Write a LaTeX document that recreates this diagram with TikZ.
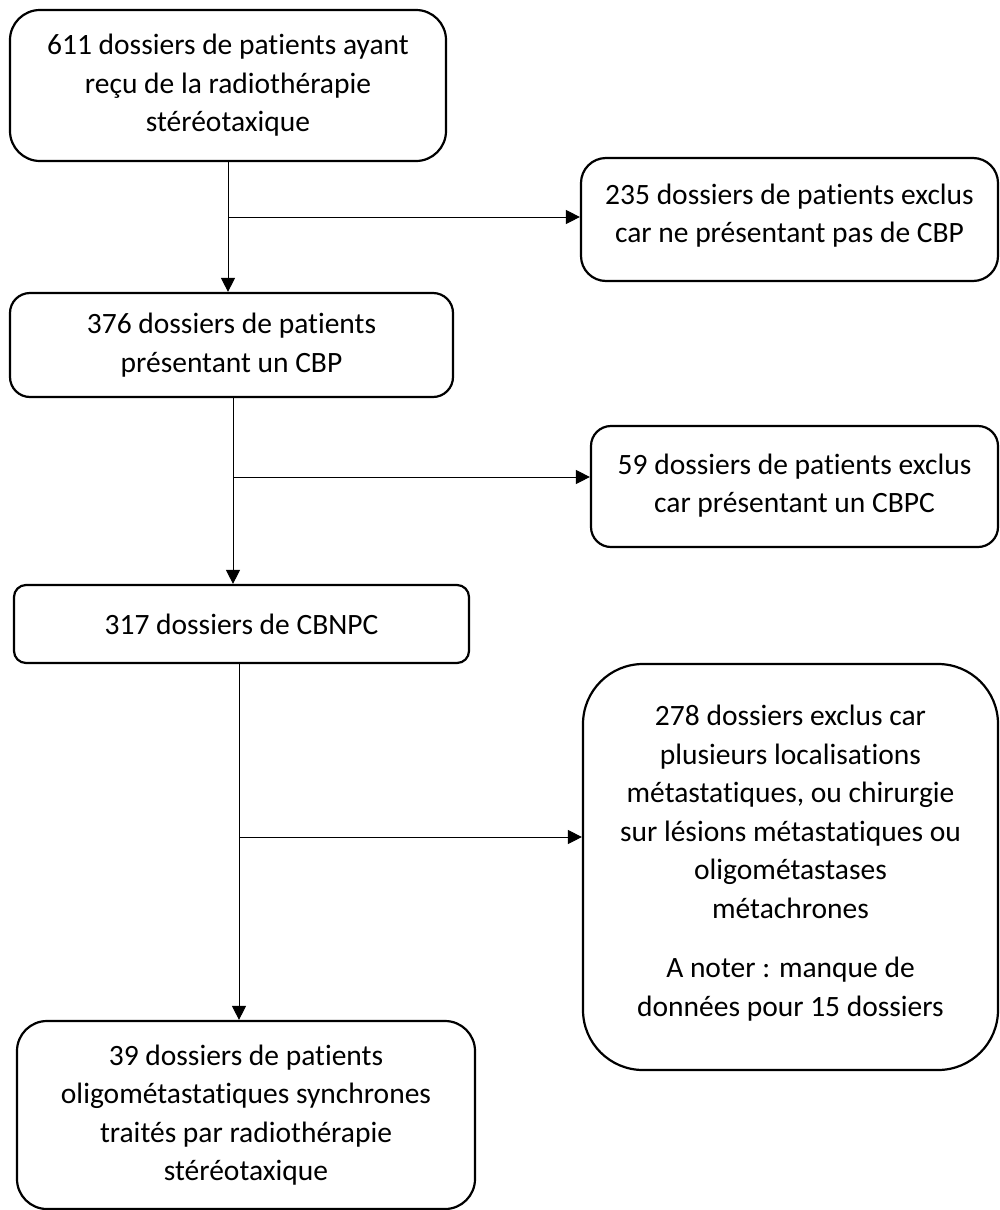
\documentclass[tikz,border=0pt]{standalone}
\usepackage{fontspec}
\setmainfont[RawFeature={-liga;-clig;-dlig;-calt}]{Carlito}
\usetikzlibrary{arrows.meta,calc}
\tikzset{
  box/.style={draw=black, line width=2.2pt, fill=white, align=center, inner sep=0pt,
    font=\fontsize{29.5}{38.5}\selectfont},
  link/.style={draw=black, line width=1pt},
  arr/.style={link, -{Triangle[length=14pt,width=14pt]}}
}
\begin{document}
\begin{tikzpicture}[x=1pt,y=-1pt]
\useasboundingbox (0,0) rectangle (999,1210);
% main column
\node[box, rounded corners=30pt, minimum width=436pt, minimum height=151pt] (b1) at (228,85.5)
  {611 dossiers de patients ayant\\reçu de la radiothérapie\\stéréotaxique};
\node[box, rounded corners=20pt, minimum width=443pt, minimum height=104pt] (b2) at (231.5,345)
  {376 dossiers de patients\\présentant un CBP};
\node[box, rounded corners=12pt, minimum width=455pt, minimum height=78pt] (b3) at (241.5,624)
  {317 dossiers de CBNPC};
\node[box, rounded corners=30pt, minimum width=458pt, minimum height=188pt] (b4) at (246,1115)
  {39 dossiers de patients\\oligométastatiques synchrones\\traités par radiothérapie\\stéréotaxique};
% exclusion column
\node[box, rounded corners=25pt, minimum width=417pt, minimum height=123pt] (r1) at (789.5,219.5)
  {235 dossiers de patients exclus\\car ne présentant pas de CBP\\[-26pt]{}};
\node[box, rounded corners=20pt, minimum width=407pt, minimum height=121pt] (r2) at (794.5,486.5)
  {59 dossiers de patients exclus\\car présentant un CBPC\\[-32pt]{}};
\node[box, rounded corners=60pt, minimum width=415pt, minimum height=406pt] (r3) at (790.5,867)
  {278 dossiers exclus car\\plusieurs localisations\\métastatiques, ou chirurgie\\sur lésions métastatiques ou\\oligométastases\\métachrones\\[21pt]A noter : manque de\\données pour 15 dossiers\\[-26pt]{}};
% connectors
\draw[arr] (b1.south) -- (b1.south |- b2.north);
\coordinate (j1) at (228,217);
\draw[arr] (j1) -- (j1 -| r1.west);
\draw[arr] ([xshift=1.5pt]b2.south) -- ([xshift=1.5pt]b2.south |- b3.north);
\coordinate (j2) at (233,477);
\draw[arr] (j2) -- (j2 -| r2.west);
\draw[arr] ([xshift=-2.5pt]b3.south) -- ([xshift=-2.5pt]b3.south |- b4.north);
\coordinate (j3) at (239,837);
\draw[arr] (j3) -- (j3 -| r3.west);
\end{tikzpicture}
\end{document}
